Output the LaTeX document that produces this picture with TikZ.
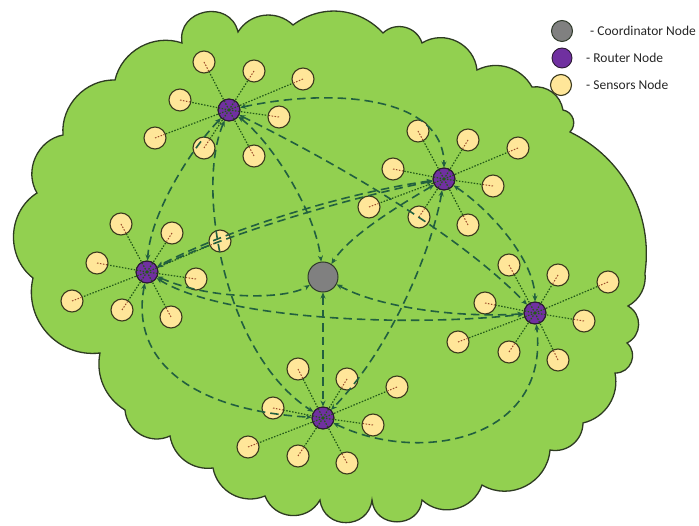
\documentclass[tikz,border=0pt]{standalone}
\usepackage{fontspec}
\setmainfont{Carlito}
\usetikzlibrary{arrows.meta,calc}

\definecolor{cloudgreen}{HTML}{92D050}
\definecolor{cloudedge}{HTML}{2E3B22}
\definecolor{sensorfill}{HTML}{FFE699}
\definecolor{sensoredge}{HTML}{3B3A1E}
\definecolor{routerfill}{HTML}{7030A0}
\definecolor{routeredge}{HTML}{2B1A33}
\definecolor{coordfill}{HTML}{808080}
\definecolor{coordedge}{HTML}{2F3A2A}
\definecolor{linkgreen}{HTML}{22603F}
\definecolor{tiegreen}{HTML}{245A18}
\definecolor{corebrown}{HTML}{9A4A2A}
\definecolor{legendtext}{HTML}{262626}

\tikzset{
  lobe/.style 2 args={bend left=#1, looseness=#2},
  cloud/.style={fill=cloudgreen, draw=cloudedge, line width=1.3pt},
  sensor/.style={circle, fill=sensorfill, draw=sensoredge, line width=1.1pt, minimum size=22pt, inner sep=0pt},
  router/.style={circle, fill=routerfill, draw=routeredge, line width=0.9pt, minimum size=22pt, inner sep=0pt},
  coordinator/.style={circle, fill=coordfill, draw=coordedge, line width=1pt, minimum size=30pt, inner sep=0pt},
  link/.style={draw=linkgreen, line width=1.6pt, dash pattern=on 8.5pt off 5pt,
    {Stealth[length=6pt,width=5pt]}-{Stealth[length=6pt,width=5pt]}},
  tie/.style={draw=tiegreen, line width=1.2pt, dash pattern=on 1.5pt off 1.5pt},
  core/.style={draw=corebrown, line width=1pt, dash pattern=on 1.5pt off 1.5pt},
  legendlabel/.style={anchor=west, inner sep=0pt, text=legendtext, font=\fontsize{13.5}{15}\selectfont}
}

\begin{document}
\begin{tikzpicture}[x=1pt, y=-1pt]
\useasboundingbox (0,0) rectangle (699,526);

% cloud outline, traced clockwise as a chain of scallops
\draw[cloud] (33,278)
  to[lobe={55}{1.05}] (37,193)
  to[lobe={55}{1.05}] (63,135)
  to[lobe={48}{1.0}] (115,80)
  to[lobe={48}{1.0}] (182,43)
  to[lobe={88}{1.55}] (238,32)
  to[lobe={51}{1.05}] (293,25)
  to[lobe={42}{1.0}] (383,33)
  to[lobe={58}{1.1}] (422,43)
  to[lobe={58}{1.1}] (477,70)
  to[lobe={44}{1.0}] (532,87)
  to[lobe={44}{1.0}] (563,110)
  to[lobe={62}{1.16}] (570,132)
  to[lobe={36}{0.95}] (645,273)
  to[lobe={34}{0.95}] (628,306)
  to[lobe={62}{1.16}] (627,343)
  to[lobe={70}{1.25}] (615,373)
  to[lobe={44}{1.0}] (583,423)
  to[lobe={50}{1.04}] (550,450)
  to[lobe={58}{1.1}] (482,485)
  to[lobe={57}{1.1}] (422,500)
  to[lobe={85}{1.5}] (372,500)
  to[lobe={83}{1.5}] (320,500)
  to[lobe={65}{1.2}] (265,496)
  to[lobe={51}{1.05}] (213,468)
  to[lobe={44}{1.0}] (170,436)
  to[lobe={55}{1.08}] (125,410)
  to[lobe={35}{0.95}] (100,353)
  to[lobe={55}{1.08}] cycle;

% routers and coordinator
\node[router] (r1) at (229,110) {};
\node[router] (r2) at (444,179) {};
\node[router] (r3) at (147,272) {};
\node[router] (r4) at (535,313) {};
\node[router] (r5) at (323,418) {};
\node[coordinator] (c) at (323,277) {};

% sensors of each router
\foreach \r/\pts in {
  1/{(204,62),(254,71),(303,79),(180,100),(279,117),(155,138),(204,148),(254,156)},
  2/{(418,131),(468,140),(518,148),(393,169),(493,186),(369,207),(419,217),(468,225)},
  3/{(121,224),(172,233),(97,263),(196,279),(72,301),(122,310),(171,317),(220,241)},
  4/{(509,265),(558,275),(608,282),(485,303),(584,321),(458,342),(509,352),(558,360)},
  5/{(298,369),(347,379),(397,387),(273,408),(373,425),(248,447),(298,456),(347,463)}}{
  \foreach \p [count=\i] in \pts {
    \node[sensor] (s\r-\i) at \p {};
    \draw[tie] (r\r.center) -- (s\r-\i);
    \draw[core] (s\r-\i.center) -- ($(s\r-\i.center)!10pt!(r\r.center)$);
  }
}

% router rims above their ties
\foreach \r in {1,...,5} {
  \draw[routeredge, line width=0.9pt] (r\r.center) circle[radius=11pt];
}

% links between routers and the coordinator
\draw[link] (r1) .. controls (330,88) and (444,95) .. (r2);
\draw[link] (r1) .. controls (190,150) and (150,215) .. (r3);
\draw[link] (r1) .. controls (195,190) and (225,355) .. (r5);
\draw[link] (r1) .. controls (270,140) and (315,210) .. (c);
\draw[link] (r1) .. controls (340,165) and (460,235) .. (r4);
\draw[link] (r2) .. controls (490,210) and (535,260) .. (r4);
\draw[link] (r2) .. controls (350,192) and (230,228) .. (r3);
\draw[link] (r2) .. controls (352,197) and (233,232) .. (r3);
\draw[link] (r2) .. controls (400,205) and (350,235) .. (c);
\draw[link] (r2) .. controls (432,250) and (390,350) .. (r5);
\draw[link] (c) -- (r5);
\draw[link] (r3) .. controls (210,300) and (285,300) .. (c);
\draw[link] (c) .. controls (380,308) and (460,318) .. (r4);
\draw[link] (r3) .. controls (220,318) and (400,328) .. (r4);
\draw[link] (r3) .. controls (130,360) and (190,410) .. (r5);
\draw[link] (r5) .. controls (420,465) and (550,440) .. (r4);

% legend
\node[coordinator, minimum size=21pt] (lg1) at (562,31) {};
\node[router, minimum size=20pt] (lg2) at (562,58) {};
\node[sensor, minimum size=21pt] (lg3) at (561,85) {};
\node[legendlabel] (lt1) at (590,31) {- Coordinator Node};
\node[legendlabel] (lt2) at (586,58) {- Router Node};
\node[legendlabel] (lt3) at (586,85) {- Sensors Node};
\end{tikzpicture}
\end{document}
